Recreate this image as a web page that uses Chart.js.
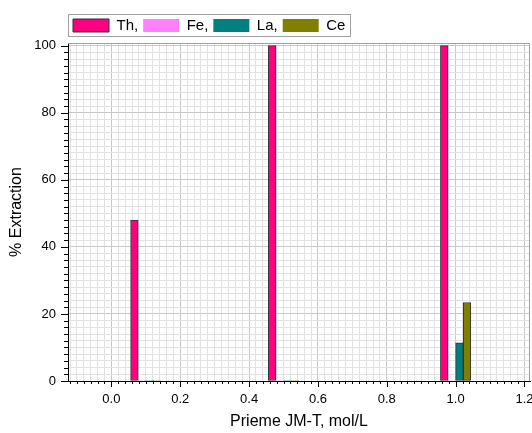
<!DOCTYPE html>
<html>
<head>
<meta charset="utf-8">
<script src="https://cdn.jsdelivr.net/npm/chart.js@4.4.0/dist/chart.umd.min.js"></script>
<style>
  html, body { margin: 0; padding: 0; background: #fff; }
  #wrap { width: 532px; height: 433px; }
</style>
</head>
<body>
<div id="wrap"><canvas id="myChart" width="532" height="433"></canvas></div>
<script>
let concentrations = [0.1, 0.5, 1.0];
let thorium = [48, 100, 100];
let iron = [0, 0, 0];
let lanthanum = [0, 0, 11.4];
let cerium = [0, 0, 23.4];
let seriesNames = ['Th,', 'Fe,', 'La,', 'Ce'];
let seriesColors = ['#ff0080', '#ff80ff', '#008080', '#808000'];
let xTicks = [0.0, 0.2, 0.4, 0.6, 0.8, 1.0, 1.2];
let yTicks = [0, 20, 40, 60, 80, 100];

function isMajor(list, value){
  return list.some(t => Math.abs(t - value) < 1e-6);
}

function gridColor(list){
  return c => (c.tick && isMajor(list, c.tick.value)) ? '#c8c8c8' : '#e2e2e2';
}

function makeDataset(i, values){
  return {
    label: seriesNames[i],
    data: concentrations.map((c, j) => ({x: c, y: values[j]})),
    backgroundColor: seriesColors[i],
    borderColor: '#333333',
    borderWidth: ctx => (ctx.raw && ctx.raw.y === 0) ? 0 : 1,
    borderSkipped: false,
    barThickness: 7.6
  };
}

// ticks drawn outside the axes, long for labelled values, short otherwise
const axisTicks = {
  id: 'axisTicks',
  afterDraw(chart){
    const {ctx, chartArea, scales} = chart;
    ctx.save();
    ctx.strokeStyle = '#a0a0a0';
    ctx.lineWidth = 1;
    ctx.beginPath();
    ctx.moveTo(chartArea.left, chartArea.top + 0.5);
    ctx.lineTo(chartArea.right - 0.5, chartArea.top + 0.5);
    ctx.lineTo(chartArea.right - 0.5, chartArea.bottom);
    ctx.stroke();

    ctx.strokeStyle = '#000';
    ctx.beginPath();
    scales.x.ticks.forEach(t => {
      const px = Math.round(scales.x.getPixelForValue(t.value)) + 0.5;
      const len = isMajor(xTicks, t.value) ? 6 : 3;
      ctx.moveTo(px, chartArea.bottom);
      ctx.lineTo(px, chartArea.bottom + len);
    });
    scales.y.ticks.forEach(t => {
      const py = Math.round(scales.y.getPixelForValue(t.value)) + 0.5;
      const len = isMajor(yTicks, t.value) ? 7 : 4;
      ctx.moveTo(chartArea.left, py);
      ctx.lineTo(chartArea.left - len, py);
    });
    ctx.stroke();

    // border round the legend
    const boxes = chart.legend.legendHitBoxes;
    if (boxes && boxes.length){
      const first = boxes[0];
      const last = boxes[boxes.length - 1];
      const cy = first.top + first.height / 2;
      ctx.strokeStyle = '#a0a0a0';
      ctx.strokeRect(Math.round(first.left) - 4.5, Math.round(cy) - 11.5,
        Math.round(last.left + last.width - first.left) + 10, 22);
    }
    ctx.restore();
  }
};

Chart.defaults.font.family = 'Arial, "Liberation Sans", sans-serif';
Chart.defaults.color = '#000';

function renderChart(){
  const ctx = document.getElementById('myChart');
  new Chart(ctx, {
    type: 'bar',
    data: {
      datasets: [
        makeDataset(0, thorium),
        makeDataset(1, iron),
        makeDataset(2, lanthanum),
        makeDataset(3, cerium)
      ]
    },
    options: {
      responsive: false,
      animation: false,
      layout: { padding: { top: 13, right: 2, left: 0, bottom: 0 } },
      plugins: {
        legend: {
          position: 'top',
          align: 'start',
          fullSize: false,
          labels: {
            boxWidth: 36,
            boxHeight: 13,
            padding: 5,
            font: { size: 15 }
          }
        },
        tooltip: { enabled: false }
      },
      scales: {
        x: {
          type: 'linear',
          min: -0.126,
          max: 1.216,
          offset: false,
          afterFit: scale => {
            scale.height = 52;
            scale.paddingLeft = 0;
            scale.paddingRight = 0;
          },
          ticks: {
            stepSize: 0.02,
            includeBounds: false,
            autoSkip: false,
            maxRotation: 0,
            padding: 11,
            font: { size: 13 },
            callback: v => isMajor(xTicks, v) ? v.toFixed(1) : ''
          },
          grid: {
            offset: false,
            drawTicks: false,
            color: gridColor(xTicks)
          },
          border: { display: true, color: '#000', width: 1 },
          title: {
            display: true,
            text: 'Prieme JM-T, mol/L',
            font: { size: 16 },
            padding: { top: 4, bottom: 2 }
          }
        },
        y: {
          min: 0,
          max: 100.8,
          afterFit: scale => { scale.width = 68; },
          ticks: {
            stepSize: 2,
            includeBounds: false,
            autoSkip: false,
            padding: 12,
            font: { size: 13 },
            callback: v => isMajor(yTicks, v) ? String(v) : ''
          },
          grid: {
            drawTicks: false,
            color: gridColor(yTicks)
          },
          border: { display: true, color: '#000', width: 1 },
          title: {
            display: true,
            text: '% Extraction',
            font: { size: 16 },
            padding: { top: 7, bottom: 4 }
          }
        }
      }
    },
    plugins: [axisTicks]
  });
}

renderChart();
</script>
</body>
</html>
